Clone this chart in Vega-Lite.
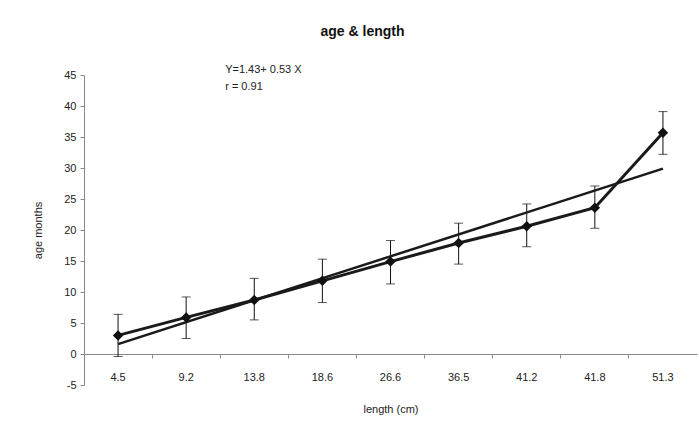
{
  "$schema": "https://vega.github.io/schema/vega-lite/v6.json",
  "width": 613,
  "height": 310,
  "autosize": {"type": "none"},
  "padding": {"left": 84, "top": 75, "right": 2, "bottom": 52},
  "background": "white",
  "title": {
    "text": "age & length",
    "font": "Liberation Sans",
    "fontSize": 14,
    "fontWeight": "bold",
    "color": "#111",
    "anchor": "middle",
    "dx": -28,
    "offset": 25
  },
  "config": {
    "view": {"stroke": null},
    "font": "Liberation Sans",
    "axis": {
      "labelFont": "Liberation Sans",
      "titleFont": "Liberation Sans",
      "labelColor": "#222",
      "titleColor": "#222",
      "domainColor": "#888",
      "tickColor": "#888",
      "grid": false,
      "labelOverlap": false
    }
  },
  "datasets": {
    "pts": [
      {"len": "4.5", "age": 3.0, "lo": -0.4, "hi": 6.4, "trend": 1.6},
      {"len": "9.2", "age": 5.9, "lo": 2.5, "hi": 9.2, "trend": null},
      {"len": "13.8", "age": 8.7, "lo": 5.5, "hi": 12.2, "trend": null},
      {"len": "18.6", "age": 11.8, "lo": 8.3, "hi": 15.3, "trend": null},
      {"len": "26.6", "age": 14.9, "lo": 11.3, "hi": 18.3, "trend": null},
      {"len": "36.5", "age": 17.9, "lo": 14.5, "hi": 21.1, "trend": null},
      {"len": "41.2", "age": 20.6, "lo": 17.3, "hi": 24.2, "trend": null},
      {"len": "41.8", "age": 23.6, "lo": 20.3, "hi": 27.1, "trend": null},
      {"len": "51.3", "age": 35.7, "lo": 32.2, "hi": 39.1, "trend": 29.9}
    ],
    "notes": [
      {"len": "9.2", "val": 45.8, "label": "Y=1.43+ 0.53 X"},
      {"len": "9.2", "val": 43.1, "label": "r = 0.91"}
    ]
  },
  "encoding": {
    "x": {
      "field": "len",
      "type": "ordinal",
      "sort": null,
      "scale": {
        "type": "band",
        "domain": ["4.5", "9.2", "13.8", "18.6", "26.6", "36.5", "41.2", "41.8", "51.3"],
        "paddingInner": 0,
        "paddingOuter": 0
      },
      "axis": {
        "title": "length (cm)",
        "offset": -31,
        "labelAngle": 0,
        "labelFontSize": 11,
        "titleFontSize": 11,
        "titleFontWeight": "normal",
        "tickSize": 4,
        "labelPadding": 13,
        "titlePadding": 21,
        "bandPosition": 0
      }
    },
    "y": {
      "field": "lo",
      "type": "quantitative",
      "scale": {"domain": [-5, 45], "nice": false, "zero": false},
      "axis": {
        "title": "age months",
        "values": [-5, 0, 5, 10, 15, 20, 25, 30, 35, 40, 45],
        "tickCount": 11,
        "labelExpr": "'' + datum.value",
        "labelOverlap": false,
        "labelFontSize": 11,
        "titleFontSize": 11,
        "titleFontWeight": "normal",
        "tickSize": 4,
        "labelPadding": 4,
        "titleX": -46,
        "titleY": 155,
        "titleBaseline": "middle",
        "titleAngle": -90
      }
    }
  },
  "layer": [
    {
      "data": {"name": "pts"},
      "mark": {"type": "rule", "color": "#111", "strokeWidth": 1},
      "encoding": {
        "y2": {"field": "hi"}
      }
    },
    {
      "data": {"name": "pts"},
      "mark": {"type": "tick", "color": "#111", "thickness": 1, "size": 9, "orient": "horizontal"}
    },
    {
      "data": {"name": "pts"},
      "mark": {"type": "tick", "color": "#111", "thickness": 1, "size": 9, "orient": "horizontal"},
      "encoding": {"y": {"field": "hi", "type": "quantitative"}}
    },
    {
      "data": {"name": "pts"},
      "transform": [{"filter": "datum.trend != null"}],
      "mark": {"type": "line", "color": "#1a1a1a", "strokeWidth": 2.5},
      "encoding": {"y": {"field": "trend", "type": "quantitative"}}
    },
    {
      "data": {"name": "pts"},
      "mark": {
        "type": "line",
        "color": "#1a1a1a",
        "strokeWidth": 3,
        "point": {"shape": "diamond", "filled": true, "size": 110, "color": "#111"}
      },
      "encoding": {"y": {"field": "age", "type": "quantitative"}}
    },
    {
      "data": {"name": "notes"},
      "mark": {"type": "text", "align": "left", "baseline": "middle", "dx": 39, "fontSize": 11, "color": "#222"},
      "encoding": {
        "y": {"field": "val", "type": "quantitative"},
        "text": {"field": "label"}
      }
    }
  ]
}
